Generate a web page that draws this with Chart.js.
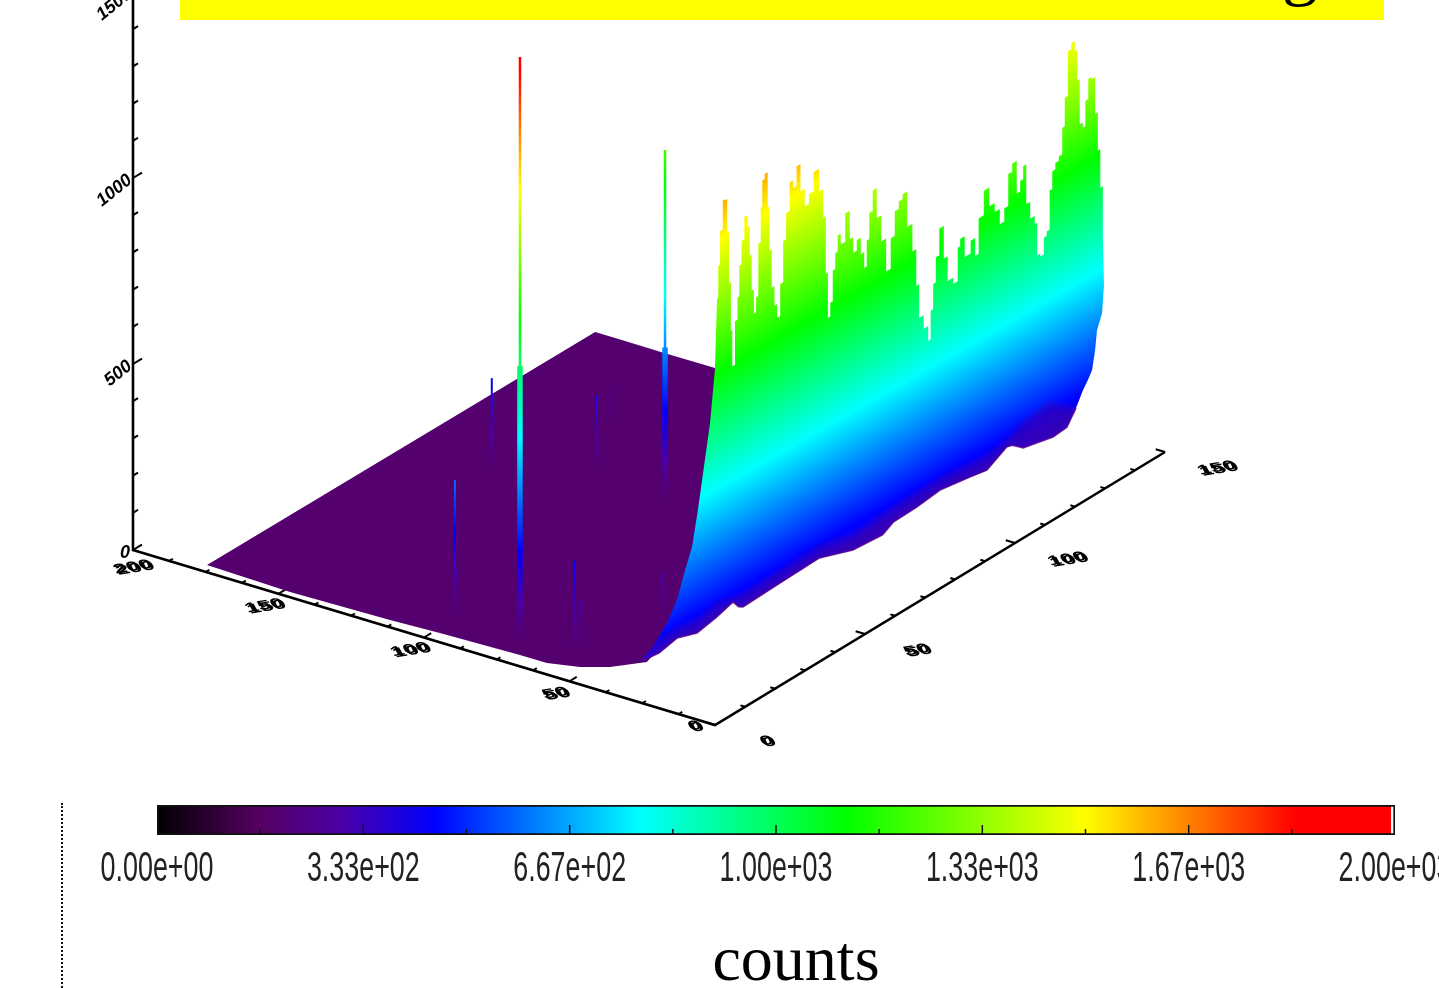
<!DOCTYPE html>
<html>
<head>
<meta charset="utf-8">
<title>counts surface</title>
<script src="https://cdn.jsdelivr.net/npm/chart.js@4"></script>
<style>
    html, body { margin: 0; padding: 0; width: 1439px; height: 988px; overflow: hidden; background: #fff; }
    canvas { position: absolute; }
    #surface { left: 0; top: 0; filter: blur(0.7px); }
    #colorbar { left: 0; top: 795px; }
    #banner { position: absolute; left: 180px; top: 0; width: 1204px; height: 20px; background: #ffff00; overflow: hidden; }
    #banner span { position: absolute; left: 1102px; top: -73px; font: 72px "Liberation Serif", serif; color: #000; }
    #dots { position: absolute; left: 61px; top: 803px; height: 185px; border-left: 2px dotted #111; }
    #unit { position: absolute; left: 0; top: 922px; width: 1592px; text-align: center; font: 64px "Liberation Serif", serif; color: #000; }
</style>
</head>
<body>
<canvas id="surface" width="1439" height="988"></canvas>
<canvas id="colorbar" width="1600" height="150"></canvas>
<div id="banner"><span>g</span></div>
<div id="dots"></div>
<div id="unit">counts</div>

<script>
/* ── 数据 ── */

// colour table
const colorCounts = [0, 167, 300, 447, 781, 1113, 1498, 1840, 1994];
const colorValues = ['#000000', '#560062', '#4a00a8', '#0000ff', '#00ffff', '#00ff00', '#ffff00', '#ff0000', '#ff0000'];
const colorbarTicks = [0, 333.3, 666.7, 1000, 1333.3, 1666.7, 2000];
const colorbarMinor = [166.7, 500, 833.3, 1166.7, 1500, 1833.3];
const colorbarLabels = ['0.00e+00', '3.33e+02', '6.67e+02', '1.00e+03', '1.33e+03', '1.67e+03', '2.00e+03'];

// flat floor
const floorLevel = 190;
const floorChannel = [4.4, 3.2, 4.4, 5.7, 7, 7, 10.7, 16.2, 26, 218.6, 218.6, 218.3, 218.6, 218.6];
const floorDepth = [221.6, 185, 143, 122.6, 89.2, 77.6, 66.2, 57.6, 49.4, 100, 169, 209.6, 190.5, 220.5];

// wall: left end, top ridge, right end, bottom edge
const leftEndChannel = 24;
const leftEndDepth = [50.8, 45.2, 39.2, 34.9, 31.4, 28.4, 25.9, 23.7, 20.7, 18.6, 17.7];
const leftEndCounts = [193, 244, 320, 390, 477, 545, 649, 752, 892, 1039, 1229];

const ridgeDepth = 16;
const ridgeChannel = [22, 23, 24, 26, 27, 28, 29, 30, 30.6, 33, 33.4, 35, 36, 38, 39.5, 40.5, 41.6, 43, 44, 45.5,
    46.7, 47.2, 49.4, 50.5, 51.4, 53, 54.4, 56, 57.8, 59.4, 61, 63.3, 65, 67, 69.4, 71.7, 74, 77, 80, 81.7,
    82.8, 84, 85.5, 86.7, 88.3, 89.4, 91.7, 94.4, 96.7, 98.3, 100.6, 102.8, 104.4, 105.6, 107.2, 109.4, 111.7, 114.4, 117.2, 119.4,
    121.7, 123.9, 126, 129, 131.7, 133.3, 135, 138.3, 140, 141, 142.8, 143.9, 146.7, 148.9, 151, 155, 156, 157.8, 161, 164.4,
    166, 168.3, 171.7, 174.4, 177.8, 180, 182.8, 184.4, 187.2, 189.4, 191, 192.8, 194.4, 197.2, 199.4, 200, 202.8, 203.9, 206, 207.2,
    208.9, 210.6, 212.8, 214.4, 215.6, 217.8, 219.4, 221.7, 222.2, 224.4, 225.6, 227.2, 228.9, 231, 232.8, 233.9, 235.6, 236.7];
const ridgeCounts = [1245, 1328, 1419, 1496, 1493, 1404, 1264, 1133, 1035, 1152, 1212, 1294, 1357, 1417, 1385, 1304, 1207, 1142, 1182, 1322,
    1415, 1486, 1499, 1404, 1286, 1182, 1129, 1092, 1178, 1289, 1359, 1436, 1415, 1468, 1394, 1347, 1373, 1425, 1363, 1286,
    1132, 1010, 1046, 1129, 1172, 1215, 1186, 1262, 1185, 1143, 1171, 1127, 1084, 1154, 1224, 1279, 1198, 1128, 1039, 1121,
    1187, 1207, 1220, 1125, 1050, 951, 860, 824, 784, 861, 929, 996, 1068, 980, 913, 896, 986, 1006, 950, 984,
    936, 1031, 1097, 1046, 1022, 981, 1016, 1102, 1124, 1036, 1064, 1099, 992, 946, 924, 836, 828, 873, 885, 990,
    1038, 1055, 1067, 1138, 1215, 1335, 1351, 1324, 1241, 1119, 1105, 1173, 1227, 1221, 1122, 1019, 915, 782];

const rightEndChannel = 236;
const rightEndDepth = [15.4, 16.2, 18.4, 19.2, 20.5, 22.3, 24.4, 27.4, 31.3, 37.3, 50.1];
const rightEndCounts = [651, 574, 524, 469, 413, 383, 352, 298, 239, 201, 148];

const edgeDepth = 51;
const edgeChannel = [231, 228, 217, 207.8, 191, 178, 165, 159, 142.6, 124, 102, 81.5, 79, 76, 67, 56, 45, 35];
const edgeCounts = [168, 172, 142, 151, 165, 157, 155, 138, 146, 179, 176, 172, 180, 202, 188, 177, 196, 185];

// purple-blue rim just above the bottom edge, fading out in three layers
const rimChannel = [266, 252, 238, 227, 216, 191, 165, 142.6, 124, 102, 81.5, 67, 56, 45, 32.6];
const rimCounts = [174, 228, 220, 199, 186, 205, 201, 192, 219, 217, 212, 233, 217, 231, 221];
const rimLayers = [0, -12, -24];

// narrow spikes on the floor
const spikeChannel = [16.2, 128.6, 115, 16.4, 134.4, 20.1, 21.3, 54.7, 167.4];
const spikeDepth = [96.3, 120.9, 184.8, 124.4, 154.6, 75.7, 74, 64.7, 174.6];
const spikePeak = [1757, 1131, 437, 566, 392, 430, 324, 319, 270];
const spikeShoulder = [926, 600, 300, 330, 280, 300, 250, 250, 220];

// axes
const heightTicks = [0, 500, 1000, 1500];
const heightMinor = [100, 200, 300, 400, 600, 700, 800, 900, 1100, 1200, 1300, 1400];
const heightLabels = ['0', '500', '1000', '1500'];
const depthAxisEnd = 250;
const depthTicks = [62.5, 125, 187.5, 250];
const depthLabels = ['50', '100', '150', '200'];
const depthMinor = [15.6, 31.2, 46.9, 78.1, 93.7, 109.4, 140.6, 156.2, 171.9, 203.1, 218.7, 234.4];
const channelAxisEnd = 250;
const channelTicks = [0, 83.3, 166.7, 250];
const channelLabels = ['0', '50', '100', '150'];
const channelMinor = [16.7, 33.3, 50, 66.7, 100, 116.7, 133.3, 150, 183.3, 200, 216.7, 233.3];

/* ── 投影 ── */

const PX_PER_COUNT = 0.372;
const ISO_SLOPE = 0.57;

// (channel, depth, height above the base plane) -> plot units
function project(channel, depth, height) {
    return {
        x: channel - 1.2933 * depth,
        y: height + (1.092 * channel + 0.7 * depth - 175) / PX_PER_COUNT,
    };
}

function surfacePoint(channel, depth, counts) {
    return project(channel, depth, counts - floorLevel);
}

function toPixel(chart, p) {
    return { x: chart.scales.x.getPixelForValue(p.x), y: chart.scales.y.getPixelForValue(p.y) };
}

function addStops(grad) {
    colorCounts.forEach((c, i) => grad.addColorStop(c / 2000, colorValues[i]));
    return grad;
}

// spike colour only depends on height
function spikeGradient(chart, i) {
    if (!chart.chartArea) return '#0000ff';
    const a = toPixel(chart, surfacePoint(spikeChannel[i], spikeDepth[i], 14));
    const b = toPixel(chart, surfacePoint(spikeChannel[i], spikeDepth[i], 1868));
    return addStops(chart.ctx.createLinearGradient(a.x, a.y, b.x, b.y));
}

// wall colour bands run parallel to the channel axis
function wallGradient(chart) {
    if (!chart.chartArea) return '#00ff00';
    const a = toPixel(chart, project(108, 16, -197));
    const v = toPixel(chart, project(108, 16, 1658));
    const n = Math.hypot(ISO_SLOPE, 1);
    const nx = -ISO_SLOPE / n, ny = -1 / n;
    const len = (v.x - a.x) * nx + (v.y - a.y) * ny;
    return addStops(chart.ctx.createLinearGradient(a.x, a.y, a.x + nx * len, a.y + ny * len));
}

/* ── 数据集 ── */

// the ridge is histogram-like, so hold each value up to the next mid channel
function ridgeSteps() {
    const pts = [];
    ridgeChannel.forEach((c, i) => {
        if (i > 0) {
            const mid = (ridgeChannel[i - 1] + c) / 2;
            pts.push(surfacePoint(mid, ridgeDepth, ridgeCounts[i - 1]));
            pts.push(surfacePoint(mid, ridgeDepth, ridgeCounts[i]));
        }
    });
    return pts;
}

const wallOutline = [
    ...leftEndDepth.map((d, i) => surfacePoint(leftEndChannel, d, leftEndCounts[i])),
    ...ridgeSteps(),
    ...rightEndDepth.map((d, i) => surfacePoint(rightEndChannel, d, rightEndCounts[i])),
    ...edgeChannel.map((c, i) => surfacePoint(c, edgeDepth, edgeCounts[i])),
];
const edgeLine = [
    ...rightEndDepth.slice(7).map((d, i) => surfacePoint(rightEndChannel, d, rightEndCounts[i + 7])),
    ...edgeChannel.map((c, i) => surfacePoint(c, edgeDepth, edgeCounts[i])),
    surfacePoint(leftEndChannel, leftEndDepth[0], leftEndCounts[0]),
];
const floorOutline = floorChannel.map((c, i) => surfacePoint(c, floorDepth[i], floorLevel));

const GAP = { x: NaN, y: NaN };
const axisLines = [
    project(0, depthAxisEnd, 1500), project(0, depthAxisEnd, 0), project(0, 0, 0), project(channelAxisEnd, 0, 0),
];
const tickLines = [];
function addTick(from, to) { tickLines.push(from, to, GAP); }
heightTicks.forEach(v => addTick(project(0, depthAxisEnd, v), project(5, depthAxisEnd, v)));
heightMinor.forEach(v => addTick(project(0, depthAxisEnd, v), project(2.8, depthAxisEnd, v)));
depthTicks.forEach(d => addTick(project(0, d, 0), project(4, d, 0)));
depthMinor.forEach(d => addTick(project(0, d, 0), project(2, d, 0)));
channelTicks.forEach(c => addTick(project(c, 0, 0), project(c, 4, 0)));
channelMinor.forEach(c => addTick(project(c, 0, 0), project(c, 2, 0)));

function lineSet(data, extra) {
    return Object.assign({ data, showLine: true, pointRadius: 0, borderWidth: 0, fill: false }, extra);
}

// 先画的在下面：数组靠前的数据集显示在最上层
const datasets = [];
datasets.push(lineSet(edgeLine, { borderWidth: 1.5, borderColor: 'rgba(86,0,140,0.8)' }));
rimLayers.forEach(lift => {
    const top = rimChannel.map((c, i) => surfacePoint(c, edgeDepth, rimCounts[i] + lift)).reverse();
    datasets.push(lineSet([...edgeLine, ...top], { fill: 'shape', backgroundColor: 'rgba(72,0,160,0.24)' }));
});
datasets.push(lineSet(wallOutline, {
    fill: 'shape',
    backgroundColor: ctx => wallGradient(ctx.chart),
}));
spikeChannel.forEach((c, i) => {
    const d = spikeDepth[i];
    datasets.push(lineSet([surfacePoint(c, d, floorLevel), surfacePoint(c, d, spikePeak[i])], {
        borderWidth: i < 2 ? 2.5 : 2,
        borderColor: ctx => spikeGradient(ctx.chart, i),
    }));
    datasets.push(lineSet([surfacePoint(c, d, floorLevel), surfacePoint(c, d, spikeShoulder[i])], {
        borderWidth: i < 2 ? 5.5 : 3,
        borderColor: ctx => spikeGradient(ctx.chart, i),
    }));
});
datasets.push(lineSet(floorOutline, { fill: 'shape', backgroundColor: '#54006e' }));
datasets.push(lineSet(axisLines, { borderWidth: 2.6, borderColor: '#000' }));
datasets.push(lineSet(tickLines, { borderWidth: 2, borderColor: '#000', spanGaps: false }));

/* ── 刻度文字 ── */

const axisLabels = {
    id: 'axisLabels',
    afterDatasetsDraw(chart) {
        const ctx = chart.ctx;
        ctx.save();
        ctx.fillStyle = '#000';
        // height axis
        heightTicks.forEach((v, i) => {
            const p = toPixel(chart, project(0, depthAxisEnd, v));
            ctx.save();
            ctx.translate(p.x - 3, p.y + (v === 0 ? 3 : 0));
            if (v !== 0) ctx.rotate(-0.68);
            ctx.font = 'italic bold 18px "Liberation Sans"';
            ctx.textAlign = 'right';
            ctx.textBaseline = 'middle';
            ctx.fillText(heightLabels[i], 0, 0);
            ctx.restore();
        });
        // squeezed labels on the floor axes
        const squat = (text, p, dx, dy) => {
            ctx.save();
            ctx.translate(p.x + dx, p.y + dy);
            ctx.transform(1.5, -0.25, 0.5, 0.85, 0, 0);
            ctx.font = 'bold 15px "Liberation Sans"';
            ctx.textAlign = 'center';
            ctx.textBaseline = 'middle';
            ctx.fillText(text, 0, 0);
            ctx.fillText(text, 1, 2);
            ctx.restore();
        };
        depthTicks.forEach((d, i) => squat(depthLabels[i], toPixel(chart, project(0, d, 0)), d === 250 ? 0 : -14, d === 250 ? 17 : 12));
        squat('0', toPixel(chart, project(0, 0, 0)), -20, 1);
        channelTicks.forEach((c, i) => squat(channelLabels[i], toPixel(chart, project(c, 0, 0)), 52, 16));
        ctx.restore();
    },
};

new Chart(document.getElementById('surface'), {
    type: 'scatter',
    data: { datasets },
    options: {
        responsive: false,
        animation: false,
        events: [],
        layout: { padding: 0 },
        scales: {
            x: { type: 'linear', display: false, min: -397.2, max: 402.2 },
            y: { type: 'linear', display: false, min: -1177.4, max: 1478.5 },
        },
        plugins: { legend: { display: false }, tooltip: { enabled: false } },
    },
    plugins: [axisLabels],
});

/* ── 色标 ── */

const colorbarMarks = {
    id: 'colorbarMarks',
    afterDraw(chart) {
        const ctx = chart.ctx;
        const x = chart.scales.x;
        const bottom = chart.chartArea.bottom;
        ctx.save();
        ctx.strokeStyle = '#111';
        ctx.lineWidth = 1.5;
        ctx.beginPath();
        colorbarTicks.slice(1, -1).forEach(v => {
            ctx.moveTo(x.getPixelForValue(v), bottom - 1);
            ctx.lineTo(x.getPixelForValue(v), bottom - 10);
        });
        colorbarMinor.forEach(v => {
            ctx.moveTo(x.getPixelForValue(v), bottom - 1);
            ctx.lineTo(x.getPixelForValue(v), bottom - 6);
        });
        ctx.stroke();
        ctx.fillStyle = '#222';
        ctx.font = '42px "Liberation Sans"';
        ctx.textAlign = 'center';
        ctx.textBaseline = 'alphabetic';
        colorbarTicks.forEach((v, i) => {
            ctx.save();
            ctx.translate(x.getPixelForValue(v), bottom + 46);
            ctx.scale(0.64, 1);
            ctx.fillText(colorbarLabels[i], 0, 0);
            ctx.restore();
        });
        ctx.restore();
    },
};

new Chart(document.getElementById('colorbar'), {
    type: 'bar',
    data: {
        labels: ['counts'],
        datasets: [{
            data: [[0, 2000]],
            borderColor: '#111',
            borderWidth: 2,
            borderSkipped: false,
            barPercentage: 1,
            categoryPercentage: 1,
            backgroundColor: ctx => {
                const area = ctx.chart.chartArea;
                if (!area) return '#000';
                const grad = ctx.chart.ctx.createLinearGradient(area.left, 0, area.right, 0);
                addStops(grad);
                grad.addColorStop(0.9971, '#ffffff');
                grad.addColorStop(1, '#ffffff');
                return grad;
            },
        }],
    },
    options: {
        indexAxis: 'y',
        responsive: false,
        animation: false,
        events: [],
        layout: { padding: { left: 157, right: 205, top: 10, bottom: 110 } },
        scales: {
            x: { type: 'linear', display: false, min: 0, max: 2000 },
            y: { display: false },
        },
        plugins: { legend: { display: false }, tooltip: { enabled: false } },
    },
    plugins: [colorbarMarks],
});
</script>
</body>
</html>
